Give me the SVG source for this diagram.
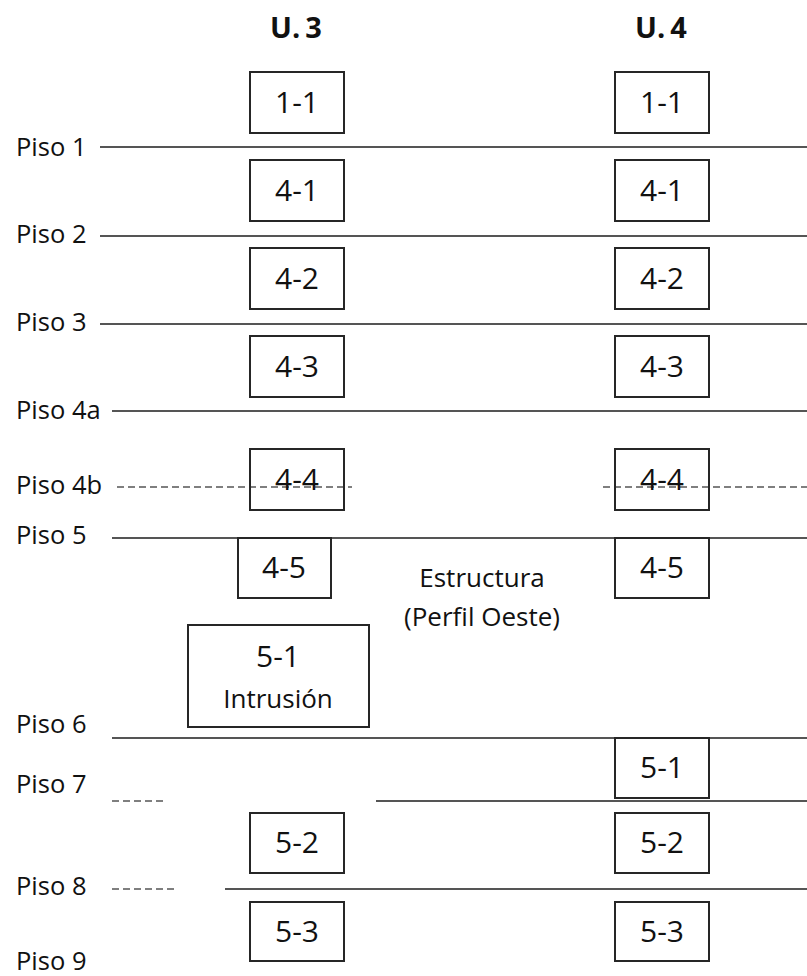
<svg xmlns="http://www.w3.org/2000/svg" width="807" height="976" viewBox="0 0 807 976">
<style>
.bg{fill:#ffffff}
.lvl{stroke:#555555;stroke-width:2;fill:none}
.dash{stroke:#555555;stroke-width:1.7;stroke-dasharray:7 4;fill:none}
.box{fill:none;stroke:#262626;stroke-width:2}
.lbl{font-family:"Open Sans","Noto Sans",sans-serif;font-size:25.5px;fill:#111111}
.num{font-family:"Open Sans","Noto Sans",sans-serif;font-size:30px;fill:#111111;text-anchor:middle}
.hdr{font-family:"Open Sans","Noto Sans",sans-serif;font-size:29px;font-weight:bold;fill:#111111;text-anchor:middle}
.txt{font-family:"Open Sans","Noto Sans",sans-serif;font-size:26px;fill:#111111;text-anchor:middle}
</style>
<rect class="bg" x="0" y="0" width="807" height="976"/>

<g id="headers">
<text class="hdr" x="296" y="38">U.<tspan dx="5">3</tspan></text>
<text class="hdr" x="661" y="38">U.<tspan dx="5">4</tspan></text>
</g>

<g id="floor-labels">
<text class="lbl" x="16" y="156">Piso 1</text>
<text class="lbl" x="16" y="243">Piso 2</text>
<text class="lbl" x="16" y="331">Piso 3</text>
<text class="lbl" x="16" y="419">Piso 4a</text>
<text class="lbl" x="16" y="494">Piso 4b</text>
<text class="lbl" x="16" y="544">Piso 5</text>
<text class="lbl" x="16" y="733">Piso 6</text>
<text class="lbl" x="16" y="793">Piso 7</text>
<text class="lbl" x="16" y="895">Piso 8</text>
<text class="lbl" x="16" y="970">Piso 9</text>
</g>

<g id="connectors">
<line class="lvl" x1="100" y1="147" x2="807" y2="147"/>
<line class="lvl" x1="100" y1="236" x2="807" y2="236"/>
<line class="lvl" x1="100" y1="324" x2="807" y2="324"/>
<line class="lvl" x1="112" y1="411" x2="807" y2="411"/>
<line class="dash" x1="117" y1="487" x2="352" y2="487"/>
<line class="dash" x1="603" y1="487" x2="807" y2="487"/>
<line class="lvl" x1="112" y1="538" x2="807" y2="538"/>
<line class="lvl" x1="112" y1="738" x2="807" y2="738"/>
<line class="dash" x1="112" y1="801" x2="163" y2="801"/>
<line class="lvl" x1="376" y1="801" x2="807" y2="801"/>
<line class="dash" x1="112" y1="889" x2="174" y2="889"/>
<line class="lvl" x1="225" y1="889" x2="807" y2="889"/>
</g>

<g id="u3-1-1"><rect class="box" x="250" y="72" width="94" height="61"/><text class="num" x="297" y="113">1-1</text></g>
<g id="u3-4-1"><rect class="box" x="250" y="160" width="94" height="61"/><text class="num" x="297" y="201">4-1</text></g>
<g id="u3-4-2"><rect class="box" x="250" y="248" width="94" height="61"/><text class="num" x="297" y="289">4-2</text></g>
<g id="u3-4-3"><rect class="box" x="250" y="336" width="94" height="61"/><text class="num" x="297" y="377">4-3</text></g>
<g id="u3-4-4"><rect class="box" x="250" y="449" width="94" height="61"/><text class="num" x="297" y="490">4-4</text></g>
<g id="u3-4-5"><rect class="box" x="238" y="538" width="93" height="60"/><text class="num" x="284" y="578">4-5</text></g>
<g id="u3-5-1"><rect class="box" x="188" y="625" width="181" height="102"/><text class="num" x="278" y="667">5-1</text><text class="txt" x="278" y="708">Intrusión</text></g>
<g id="u3-5-2"><rect class="box" x="250" y="813" width="94" height="60"/><text class="num" x="297" y="853">5-2</text></g>
<g id="u3-5-3"><rect class="box" x="250" y="902" width="94" height="59"/><text class="num" x="297" y="942">5-3</text></g>

<g id="u4-1-1"><rect class="box" x="615" y="72" width="94" height="61"/><text class="num" x="662" y="113">1-1</text></g>
<g id="u4-4-1"><rect class="box" x="615" y="160" width="94" height="61"/><text class="num" x="662" y="201">4-1</text></g>
<g id="u4-4-2"><rect class="box" x="615" y="248" width="94" height="61"/><text class="num" x="662" y="289">4-2</text></g>
<g id="u4-4-3"><rect class="box" x="615" y="336" width="94" height="61"/><text class="num" x="662" y="377">4-3</text></g>
<g id="u4-4-4"><rect class="box" x="615" y="449" width="94" height="61"/><text class="num" x="662" y="490">4-4</text></g>
<g id="u4-4-5"><rect class="box" x="615" y="538" width="94" height="60"/><text class="num" x="662" y="578">4-5</text></g>
<g id="u4-5-1"><rect class="box" x="615" y="738" width="94" height="60"/><text class="num" x="662" y="778">5-1</text></g>
<g id="u4-5-2"><rect class="box" x="615" y="813" width="94" height="60"/><text class="num" x="662" y="853">5-2</text></g>
<g id="u4-5-3"><rect class="box" x="615" y="902" width="94" height="59"/><text class="num" x="662" y="942">5-3</text></g>

<g id="structure-note">
<text class="txt" x="482" y="587">Estructura</text>
<text class="txt" x="482" y="626">(Perfil Oeste)</text>
</g>
</svg>
